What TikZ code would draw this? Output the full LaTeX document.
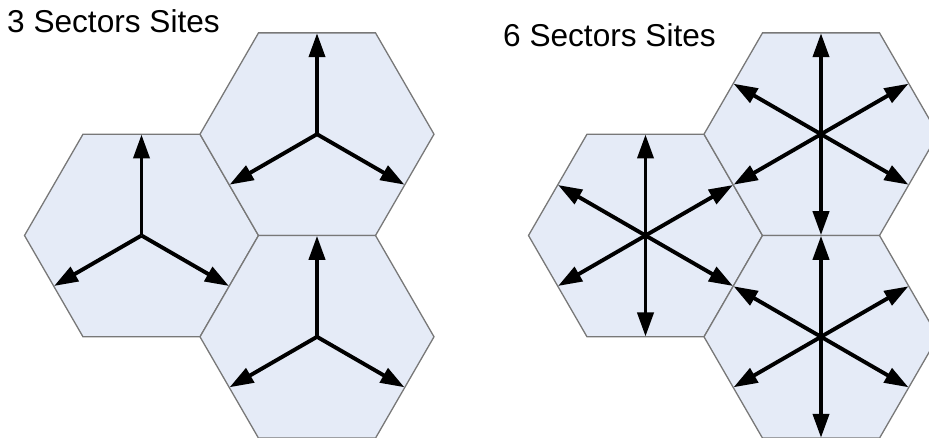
\documentclass[tikz,border=0pt]{standalone}
\usepackage{fontspec}
\setmainfont{Liberation Sans}
\usetikzlibrary{shapes.geometric,arrows.meta}
\definecolor{hexfill}{RGB}{229,235,247}
\definecolor{hexline}{RGB}{120,120,120}
\tikzset{
  hexcell/.style={shape=regular polygon, regular polygon sides=6, minimum size=234pt,
    inner sep=0pt, outer sep=0pt, draw=hexline, line width=1.3pt, fill=hexfill},
  sector/.style={line width=3.9pt, -{Triangle[length=24pt,width=16pt]}},
  caption/.style={anchor=base west, inner sep=0pt, font=\fontsize{31.6}{38}\selectfont}
}
\begin{document}
\begin{tikzpicture}[x=1pt,y=-1pt]
\useasboundingbox (0,0) rectangle (929,438);
\clip (0,0) rectangle (929,438);
% left group: 3 sectors
\node[hexcell] (A) at (141.5,235.5) {};
\node[hexcell] (B) at (317,134.2) {};
\node[hexcell] (C) at (317,336.8) {};
% right group: 6 sectors
\node[hexcell] (D) at (645.5,235.5) {};
\node[hexcell] (E) at (821,134.2) {};
\node[hexcell] (F) at (821,336.8) {};
% arrows 3 sectors
\foreach \c in {A,B,C}{
  \foreach \a in {270,150,30}{
    \draw[sector] (\c.center) -- ++(\a:101);
  }
}
% arrows 6 sectors
\foreach \c in {D,E,F}{
  \foreach \a in {30,90,150,210,270,330}{
    \draw[sector] (\c.center) -- ++(\a:101);
  }
}
\node[caption] (t1) at (7,33) {3 Sectors Sites};
\node[caption] (t2) at (503,47) {6 Sectors Sites};
\end{tikzpicture}
\end{document}
